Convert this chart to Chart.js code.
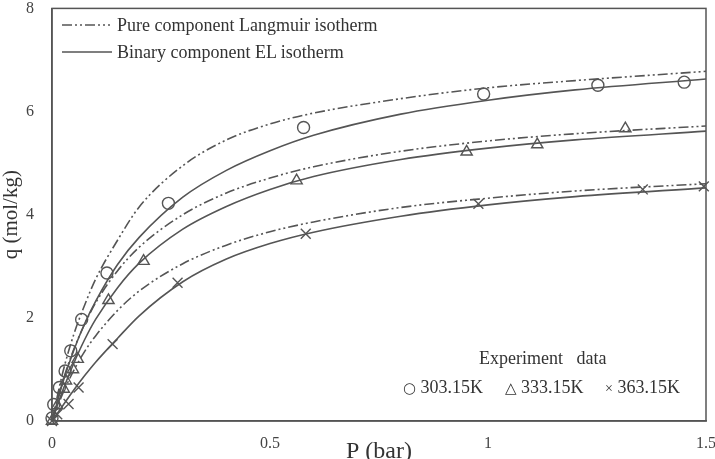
<!DOCTYPE html>
<html lang="en">
<head>
<meta charset="UTF-8">
<title>Isotherms</title>
<script src="https://cdn.jsdelivr.net/npm/chart.js@4.4.0/dist/chart.umd.min.js"></script>
<style>
  body { margin: 0; background: #fff; }
  .wrap { position: relative; width: 715px; height: 459px; font-family: "Liberation Serif", serif; color: #333; }
  .lab { position: absolute; white-space: nowrap; line-height: 1; transform: translateY(-50%); }
  .sym { font-family: "DejaVu Sans", sans-serif; font-size: 15px; }
  svg { position: absolute; left: 0; top: 0; pointer-events: none; }
</style>
</head>
<body>
<div class="wrap">
  <canvas id="myChart" width="715" height="459"></canvas>
  <svg width="715" height="459">
    <line x1="62" y1="25" x2="110" y2="25" stroke="#555" stroke-width="1.6" stroke-dasharray="10 3 2 3 2 3"/>
    <line x1="62" y1="52" x2="112" y2="52" stroke="#555" stroke-width="1.6"/>
  </svg>
  <div class="lab" style="left:117px;top:25px;font-size:18px">Pure component Langmuir isotherm</div>
  <div class="lab" style="left:117px;top:52px;font-size:18px">Binary component EL isotherm</div>
  <div class="lab" style="left:479px;top:358px;font-size:18px">Experiment&nbsp;&nbsp;&nbsp;data</div>
  <div class="lab" style="left:403px;top:387px;font-size:18px"><span class="sym">○</span> 303.15K</div>
  <div class="lab" style="left:505px;top:387px;font-size:18px"><span class="sym">△</span> 333.15K</div>
  <div class="lab" style="left:605px;top:387px;font-size:18px"><span style="font-size:14px">×</span> 363.15K</div>
</div>

<script>
    // model curves, P in bar, q in mol/kg
    const pressureGrid = [0, 0.025, 0.05, 0.075, 0.1, 0.15, 0.2, 0.3, 0.4, 0.5, 0.6, 0.8, 1.0, 1.2, 1.5];
    const langmuir303 = [0, 0.95, 1.68, 2.25, 2.75, 3.50, 4.15, 4.95, 5.45, 5.76, 5.97, 6.25, 6.46, 6.60, 6.78];
    const el303       = [0, 0.75, 1.37, 1.89, 2.32, 3.03, 3.56, 4.34, 4.86, 5.24, 5.54, 5.95, 6.22, 6.42, 6.63];
    const langmuir333 = [0, 0.78, 1.39, 1.88, 2.29, 2.91, 3.37, 4.00, 4.42, 4.71, 4.93, 5.23, 5.43, 5.57, 5.72];
    const el333       = [0, 0.60, 1.12, 1.58, 1.97, 2.58, 3.06, 3.72, 4.16, 4.49, 4.74, 5.07, 5.29, 5.45, 5.62];
    const langmuir363 = [0, 0.54, 0.98, 1.35, 1.65, 2.14, 2.52, 3.05, 3.41, 3.67, 3.86, 4.14, 4.32, 4.46, 4.60];
    const el363       = [0, 0.30, 0.60, 0.88, 1.14, 1.60, 2.04, 2.70, 3.14, 3.44, 3.66, 3.97, 4.19, 4.35, 4.52];

    // experiment points
    const exp303P = [0, 0.004, 0.017, 0.030, 0.043, 0.068, 0.126, 0.267, 0.577, 0.99, 1.252, 1.45];
    const exp303Q = [0.06, 0.32, 0.65, 0.97, 1.36, 1.97, 2.87, 4.22, 5.69, 6.34, 6.51, 6.57];
    const exp333P = [0, 0.012, 0.027, 0.032, 0.048, 0.059, 0.1295, 0.21, 0.561, 0.951, 1.113, 1.315];
    const exp333Q = [0, 0.30, 0.62, 0.78, 1.00, 1.20, 2.34, 3.10, 4.66, 5.22, 5.36, 5.67];
    const exp363P = [0, 0.012, 0.038, 0.061, 0.139, 0.288, 0.582, 0.978, 1.355, 1.495];
    const exp363Q = [0, 0.13, 0.33, 0.65, 1.49, 2.68, 3.63, 4.21, 4.49, 4.55];

    const xTicks = [0, 0.5, 1, 1.5];
    const yTicks = [0, 2, 4, 6, 8];

    const ink = '#555';
    const serif = 'Liberation Serif';

    function pts(xs, ys) {
        return xs.map((x, i) => ({ x: x, y: ys[i] }));
    }

    function curve(ys, dashed) {
        return {
            data: pts(pressureGrid, ys),
            showLine: true,
            borderColor: ink,
            borderWidth: 1.6,
            borderDash: dashed ? [10, 3, 2, 3, 2, 3] : [],
            pointRadius: 0,
            cubicInterpolationMode: 'monotone',
            fill: false
        };
    }

    function marks(xs, ys, style, r) {
        return {
            data: pts(xs, ys),
            showLine: false,
            pointStyle: style,
            pointRadius: r,
            pointBorderColor: ink,
            pointBackgroundColor: 'rgba(255,255,255,0)',
            pointBorderWidth: 1.4,
            clip: false
        };
    }

    const frame = {
        id: 'frame',
        afterDraw(chart) {
            const a = chart.chartArea, ctx = chart.ctx;
            ctx.save();
            ctx.strokeStyle = ink;
            ctx.lineWidth = 1.5;
            ctx.strokeRect(a.left, a.top, a.right - a.left, a.bottom - a.top);
            ctx.restore();
        }
    };

    let myChart = document.getElementById('myChart').getContext('2d');

    new Chart(myChart, {
        type: 'scatter',
        data: {
            datasets: [
                curve(langmuir303, true), curve(el303, false),
                curve(langmuir333, true), curve(el333, false),
                curve(langmuir363, true), curve(el363, false),
                marks(exp303P, exp303Q, 'circle', 6),
                marks(exp333P, exp333Q, 'triangle', 6.5),
                marks(exp363P, exp363Q, 'crossRot', 7)
            ]
        },
        options: {
            responsive: false,
            animation: false,
            layout: { padding: { left: 0, top: 4, right: 9, bottom: 0 } },
            plugins: { legend: { display: false }, tooltip: { enabled: false } },
            scales: {
                x: {
                    type: 'linear', min: 0, max: 1.5,
                    afterBuildTicks: s => { s.ticks = xTicks.map(v => ({ value: v })); },
                    ticks: { padding: 5, color: '#444', font: { family: serif, size: 16 }, maxRotation: 0, callback: v => String(v) },
                    grid: { display: false },
                    border: { display: true, color: ink, width: 1.5 },
                    title: { display: true, text: 'P (bar)', color: '#333', font: { family: serif, size: 24 }, padding: { top: 0, bottom: -7 } },
                    afterFit: s => { s.height = 38; s.paddingLeft = 0; s.paddingRight = 0; }
                },
                y: {
                    type: 'linear', min: 0, max: 8,
                    afterBuildTicks: s => { s.ticks = yTicks.map(v => ({ value: v })); },
                    ticks: { padding: 10, color: '#444', font: { family: serif, size: 16 }, callback: v => String(v) },
                    grid: { display: false },
                    border: { display: true, color: ink, width: 1.5 },
                    title: { display: true, text: 'q (mol/kg)', color: '#333', font: { family: serif, size: 21 }, padding: { top: -1, bottom: 0 } },
                    afterFit: s => { s.width = 52; s.paddingTop = 0; s.paddingBottom = 0; }
                }
            }
        },
        plugins: [frame]
    });
</script>
</body>
</html>
